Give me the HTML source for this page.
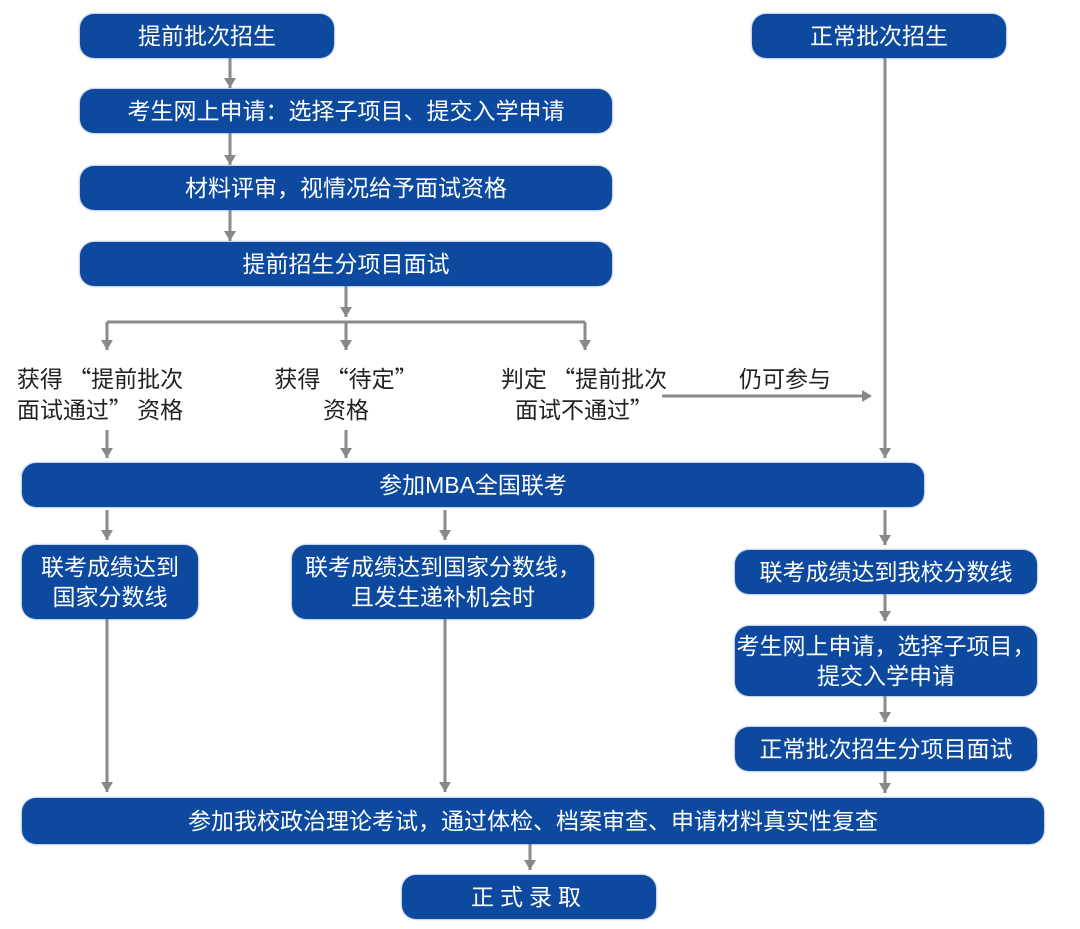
<!DOCTYPE html>
<html><head><meta charset="utf-8"><style>
body{margin:0;width:1080px;height:929px;background:#fff;position:relative;overflow:hidden;font-family:"Liberation Sans","Noto Sans CJK SC",sans-serif}
.b{position:absolute;background:#0d4a9f;color:#fff;border-radius:14px;display:flex;align-items:center;justify-content:center;text-align:center;font-size:23px;line-height:30px;box-shadow:0 0 2px #5a7fc0}
.t{position:absolute;color:#222;font-size:23px;line-height:31px;text-align:center;font-family:"Noto Sans CJK SC",sans-serif;white-space:nowrap}
svg{position:absolute;left:0;top:0}
</style></head><body>
<svg width="1080" height="929">
<g stroke="#8a8a8a" stroke-width="3" fill="none">
<path d="M230 58V88M230 133V165M230 210V241M346 286V317"/>
<path d="M107 322H585M107 322V350M346 322V350M585 322V350"/>
<path d="M107 430V458M346 430V458"/>
<path d="M662 396H862"/>
<path d="M885 58V458"/>
<path d="M107 510V540M445 510V540M885 510V545"/>
<path d="M107 619V792M445 619V792"/>
<path d="M885 594V621M885 696V722M885 771V793M530 844V870"/>
</g>
<g fill="#888">
<path d="M224 78h12l-6 10z M224 155h12l-6 10z M224 231h12l-6 10z M340 307h12l-6 10z"/>
<path d="M101 340h12l-6 10z M340 340h12l-6 10z M579 340h12l-6 10z"/>
<path d="M101 448h12l-6 10z M340 448h12l-6 10z M879 448h12l-6 10z"/>
<path d="M862 390v12l10-6z"/>
<path d="M101 530h12l-6 10z M439 530h12l-6 10z M879 535h12l-6 10z"/>
<path d="M101 782h12l-6 10z M439 782h12l-6 10z"/>
<path d="M879 611h12l-6 10z M879 712h12l-6 10z M879 783h12l-6 10z M524 860h12l-6 10z"/>
</g>
</svg>
<div class="b" style="left:80px;top:14px;width:254px;height:44px">提前批次招生</div>
<div class="b" style="left:752px;top:14px;width:254px;height:44px">正常批次招生</div>
<div class="b" style="left:80px;top:89px;width:532px;height:44px">考生网上申请：选择子项目、提交入学申请</div>
<div class="b" style="left:80px;top:166px;width:532px;height:44px">材料评审，视情况给予面试资格</div>
<div class="b" style="left:80px;top:242px;width:532px;height:44px">提前招生分项目面试</div>
<div class="t" style="left:0px;top:362px;width:200px">获得 “提前批次<br>面试通过” 资格</div>
<div class="t" style="left:256px;top:362px;width:180px">获得 “待定”<br>资格</div>
<div class="t" style="left:484px;top:362px;width:200px">判定 “提前批次<br>面试不通过”</div>
<div class="t" style="left:720px;top:362px;width:130px">仍可参与</div>
<div class="b" style="left:22px;top:463px;width:902px;height:44px">参加MBA全国联考</div>
<div class="b" style="left:22px;top:545px;width:176px;height:74px">联考成绩达到<br>国家分数线</div>
<div class="b" style="left:292px;top:545px;width:302px;height:74px">联考成绩达到国家分数线，<br>且发生递补机会时</div>
<div class="b" style="left:735px;top:550px;width:302px;height:44px">联考成绩达到我校分数线</div>
<div class="b" style="left:735px;top:626px;width:302px;height:70px">考生网上申请，选择子项目，<br>提交入学申请</div>
<div class="b" style="left:735px;top:727px;width:302px;height:44px">正常批次招生分项目面试</div>
<div class="b" style="left:22px;top:798px;width:1022px;height:46px">参加我校政治理论考试，通过体检、档案审查、申请材料真实性复查</div>
<div class="b" style="left:402px;top:875px;width:254px;height:44px;letter-spacing:6px">正式录取</div>
</body></html>
